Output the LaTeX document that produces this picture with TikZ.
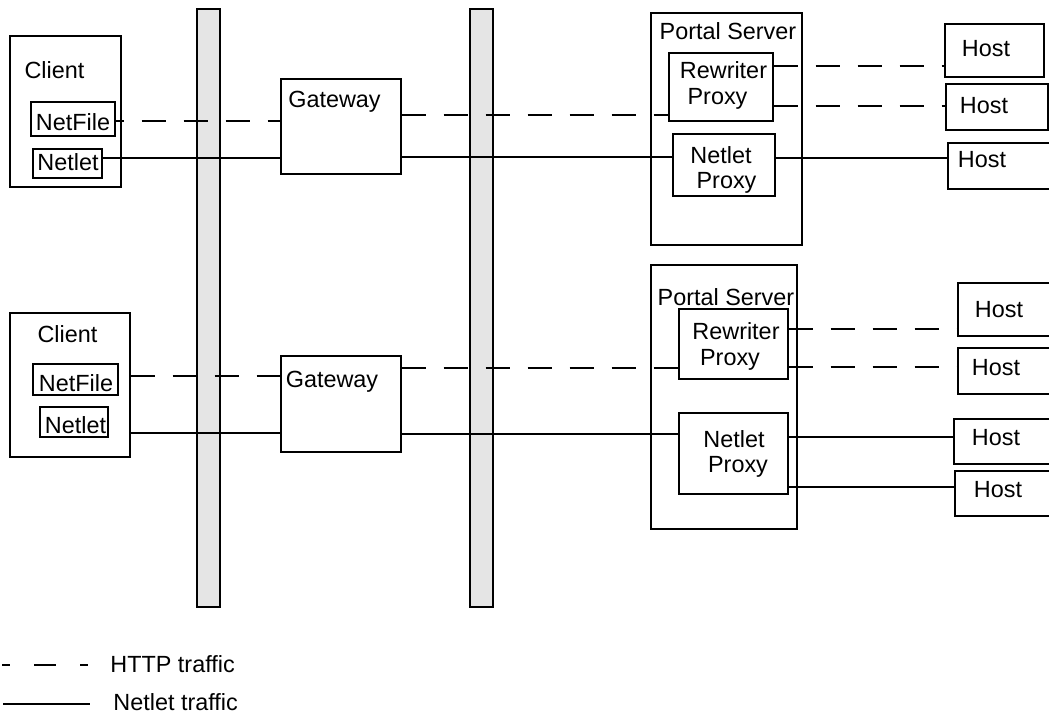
\documentclass[tikz,border=0pt]{standalone}
\usepackage{fontspec}
\setmainfont{Liberation Sans}
\usetikzlibrary{fit}
\begin{document}
\begin{tikzpicture}[x=0.5pt,y=-0.5pt,
  box/.style={draw, line width=0.65pt, inner sep=0pt},
  bar/.style={draw, line width=0.65pt, inner sep=0pt, fill=black!10},
  lbl/.style={inner sep=0pt, font=\fontsize{11.7}{13}\selectfont, text height=8.4pt, text depth=0pt},
  conn/.style={line width=0.65pt},
  http/.style={conn, dash pattern=on 12pt off 9pt}]
\useasboundingbox (0,0) rectangle (1049,713);

% firewall bars
\node[bar, fit={(197,9) (220,607)}] (bar1) {};
\node[bar, fit={(470,9) (493,607)}] (bar2) {};

% ---------- top row ----------
\node[box, fit={(10,36) (121,187)}] (client1) {};
\node[box, fit={(31,102) (115,136)}] (netfile1) {};
\node[box, fit={(33,149) (102,178)}] (netlet1) {};
\node[box, fit={(281,79) (401,174)}] (gw1) {};
\node[box, fit={(651,13) (802,245)}] (portal1) {};
\node[box, fit={(669,53) (773,121)}] (rew1) {};
\node[box, fit={(673,134) (775,196)}] (netp1) {};
\node[box, fit={(945,24) (1044,77)}] (h11) {};
\node[box, fit={(946,84) (1048,130)}] (h12) {};
\node[box, fit={(948,143) (1058,189)}] (h13) {};

\node[lbl] (tclient1) at (54.5,70.5) {Client};
\node[lbl] (tnetfile1) at (73,122) {NetFile};
\node[lbl] (tnetlet1) at (68,162) {Netlet};
\node[lbl] (tgw1) at (334.5,99) {Gateway};
\node[lbl] (tportal1) at (728,31.5) {Portal Server};
\node[lbl] (trew1a) at (723.5,70) {Rewriter};
\node[lbl] (trew1b) at (717.5,96) {Proxy};
\node[lbl] (tnetp1a) at (721,155) {Netlet};
\node[lbl] (tnetp1b) at (726.5,180) {Proxy};
\node[lbl] (th11) at (986,48) {Host};
\node[lbl] (th12) at (984,105) {Host};
\node[lbl] (th13) at (982,159) {Host};

% ---------- bottom row ----------
\node[box, fit={(10,313) (130,457)}] (client2) {};
\node[box, fit={(33,364) (118,395)}] (netfile2) {};
\node[box, fit={(40,407) (108,437)}] (netlet2) {};
\node[box, fit={(281,356) (401,452)}] (gw2) {};
\node[box, fit={(651,265) (797,529)}] (portal2) {};
\node[box, fit={(679,309) (788,379)}] (rew2) {};
\node[box, fit={(679,413) (788,494)}] (netp2) {};
\node[box, fit={(958,283) (1058,336)}] (h21) {};
\node[box, fit={(958,348) (1058,394)}] (h22) {};
\node[box, fit={(954,419) (1058,464)}] (h23) {};
\node[box, fit={(955,471) (1058,516)}] (h24) {};

\node[lbl] (tclient2) at (67.5,334) {Client};
\node[lbl] (tnetfile2) at (76,383) {NetFile};
\node[lbl] (tnetlet2) at (75.5,425) {Netlet};
\node[lbl] (tgw2) at (332,379) {Gateway};
\node[lbl] (tportal2) at (726,297.5) {Portal Server};
\node[lbl] (trew2a) at (736,331) {Rewriter};
\node[lbl] (trew2b) at (730,357.5) {Proxy};
\node[lbl] (tnetp2a) at (734,439) {Netlet};
\node[lbl] (tnetp2b) at (738,464) {Proxy};
\node[lbl] (th21) at (999,309) {Host};
\node[lbl] (th22) at (996,367.5) {Host};
\node[lbl] (th23) at (996,437) {Host};
\node[lbl] (th24) at (998,489) {Host};

% ---------- connectors top ----------
\draw[http, dash phase=8pt] (netfile1.east |- 0,121) -- (gw1.west |- 0,121);
\draw[conn] (netlet1.east |- 0,158) -- (gw1.west |- 0,158);
\draw[http] (gw1.east |- 0,115) -- (rew1.west |- 0,115);
\draw[conn] (gw1.east |- 0,157) -- (netp1.west |- 0,157);
\draw[http] (rew1.east |- 0,66) -- (h11.west |- 0,66);
\draw[http] (rew1.east |- 0,106) -- (h12.west |- 0,106);
\draw[conn] (netp1.east |- 0,158) -- (h13.west |- 0,158);

% ---------- connectors bottom ----------
\draw[http] (client2.east |- 0,376) -- (gw2.west |- 0,376);
\draw[conn] (client2.east |- 0,433) -- (gw2.west |- 0,433);
\draw[http] (gw2.east |- 0,368) -- (rew2.west |- 0,368);
\draw[conn] (gw2.east |- 0,434) -- (netp2.west |- 0,434);
\draw[http] (rew2.east |- 0,329) -- (h21.west |- 0,329);
\draw[http] (rew2.east |- 0,367) -- (h22.west |- 0,367);
\draw[conn] (netp2.east |- 0,437) -- (h23.west |- 0,437);
\draw[conn] (netp2.east |- 0,487) -- (h24.west |- 0,487);

% ---------- legend ----------
\node[lbl, anchor=west] (legH) at (110,664) {HTTP traffic};
\node[lbl, anchor=west] (legN) at (113,702) {Netlet traffic};
\coordinate (lh) at (2,665);
\coordinate (ln) at (3,704);
\draw[conn, dash pattern=on 11pt off 12pt, dash phase=7pt] (lh) -- (lh -| 88,0);
\draw[conn] (ln) -- (ln -| 90,0);
\end{tikzpicture}
\end{document}
